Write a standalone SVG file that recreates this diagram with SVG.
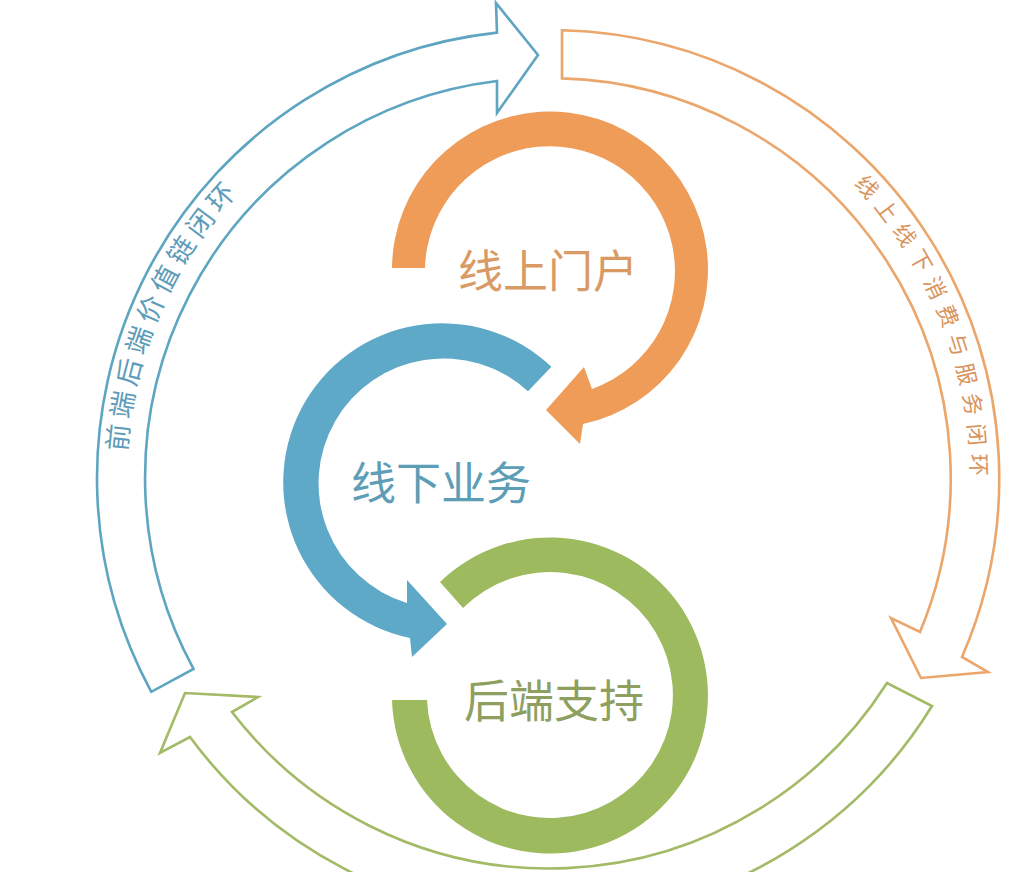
<svg xmlns="http://www.w3.org/2000/svg" width="1024" height="872" viewBox="0 0 1024 872">
<defs>
<style>
.cjk{font-family:"Noto Sans CJK SC","Noto Sans",sans-serif;}
.outline{fill:#ffffff;stroke-width:2.6;stroke-linejoin:miter;}
.big{font-size:45px;text-anchor:middle;}
</style>
<path id="bluePath" d="M126.8,451.7 A419,419 0 0,1 335.5,115.1" fill="none"/>
<path id="orangePath" d="M853.5,184.2 A426,426 0 0,1 964.5,552" fill="none"/>
</defs>
<rect width="1024" height="872" fill="#ffffff"/>
<g id="connectors">
  <g id="loop-frontback">
    <path class="outline" stroke="#5ea5c2" d="M151.3,691.8 A448,448 0 0,1 497,32.6 L496,3 L538,55 L497,113 L497,81 A400,400 0 0,0 193.5,668.9 Z"/>
    <text class="cjk" font-size="27" letter-spacing="5.4" fill="#5d9cb8"><textPath href="#bluePath">前端后端价值链闭环</textPath></text>
  </g>
  <g id="loop-o2o">
    <path class="outline" stroke="#eba66c" d="M562,30.3 A448,448 0 0,1 962,657 L988,672 L921,678 L891,618 L920,632 A400,400 0 0,0 562,78.4 Z"/>
    <text class="cjk" font-size="22" letter-spacing="8" fill="#d9935c"><textPath href="#orangePath">线上线下消费与服务闭环</textPath></text>
  </g>
  <g id="loop-green">
    <path class="outline" stroke="#a3ba66" d="M932,706 A448,448 0 0,1 190,737 L160,753 L185,693 L258,697 L232,712 A400,400 0 0,0 887,683 Z"/>
  </g>
</g>
<g id="online-portal">
  <path fill="#ee9c58" d="M392,268 A158,158 0 1,1 583,424 L580,444 L546,410 L584,367 L592,389 A125,125 0 1,0 425,268 Z"/>
  <text class="cjk big" x="548" y="288" font-size="44" fill="#d99a66">线上门户</text>
</g>
<g id="offline-business">
  <path fill="#5ea9c8" d="M551.4,366.7 A159,159 0 1,0 410,638 L412,657 L447,624 L407,580 L407,603 A125,125 0 1,1 528,391.3 Z"/>
  <text class="cjk big" x="441" y="500" fill="#5d9db6">线下业务</text>
</g>
<g id="backend-support">
  <path fill="#9dba5e" d="M440,582 A158,158 0 1,1 392,700 L427,700 A123,123 0 1,0 463,608 Z"/>
  <text class="cjk big" x="554" y="718" font-size="46" fill="#8e9f5f">后端支持</text>
</g>
</svg>
